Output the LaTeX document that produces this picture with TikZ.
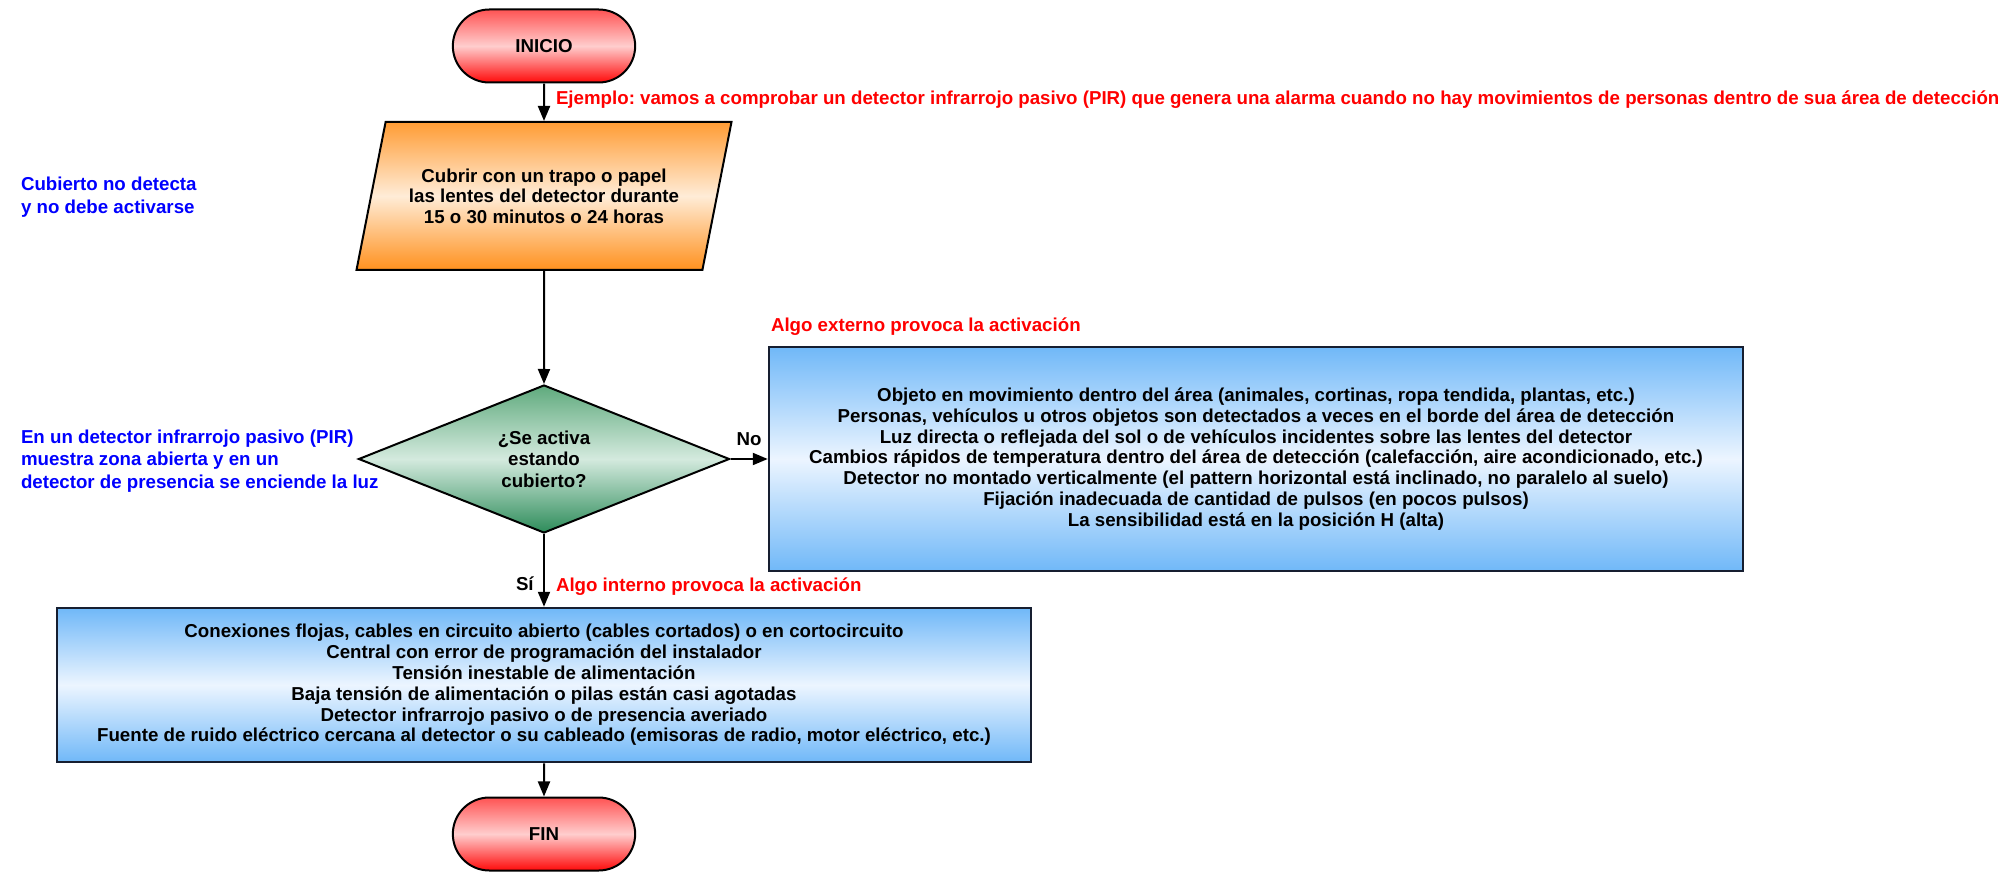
\documentclass[tikz,border=0pt]{standalone}
\usepackage{fontspec}
\setmainfont{Liberation Sans}
\usetikzlibrary{calc,arrows.meta,shapes.misc,shapes.geometric}
\definecolor{TermRed}{RGB}{255,10,10}
\definecolor{TermPink}{RGB}{255,205,205}
\definecolor{ProcOrange}{RGB}{255,145,30}
\definecolor{ProcPeach}{RGB}{255,236,215}
\definecolor{DecTop}{RGB}{95,170,125}
\definecolor{DecMid}{RGB}{212,234,222}
\definecolor{DecBot}{RGB}{45,140,90}
\definecolor{CauseBlue}{RGB}{112,184,248}
\definecolor{CauseLight}{RGB}{236,245,255}
\definecolor{Border}{RGB}{22,30,48}
\frenchspacing
\newcommand{\Spine}{544}
\newcommand{\Bold}{\fontsize{18.7}{20.8}\selectfont\bfseries}
\tikzset{Terminal/.style={
    rounded rectangle,
    minimum width=189,
    minimum height=73,
    draw=black, line width=2pt,
    top color=TermRed!70, bottom color=TermRed, middle color=TermPink,
    font=\Bold,
    }
}
\tikzset{Cause/.style={
    rectangle,
    minimum width=974,
    draw=Border, line width=2.5pt,
    top color=CauseBlue, bottom color=CauseBlue, middle color=CauseLight,
    align=center,
    font=\Bold,
    }
}

\begin{document}
\begin{tikzpicture}[x=1pt, y=-1pt, line width=2pt,
    flow/.style={-{Triangle[length=15pt,width=12pt]}, black},
    note/.style={font=\Bold, text=red, anchor=west, inner sep=0pt},
    hint/.style={font=\fontsize{18.7}{22.5}\selectfont\bfseries, text=blue, align=left, anchor=west, inner sep=0pt},
]
\useasboundingbox (0,0) rectangle (2007,874);
% main column
\node [Terminal] (inicio) at (\Spine,46) {INICIO};
\node [trapezium, trapezium left angle=62, trapezium right angle=118, trapezium stretches body=true,
    minimum width=375, minimum height=148, inner sep=0pt, draw=black,
    top color=ProcOrange!90, bottom color=ProcOrange, middle color=ProcPeach,
    align=center, font=\fontsize{18.7}{20.5}\selectfont\bfseries] (cubrir) at (\Spine,196)
    {Cubrir con un trapo o papel\\las lentes del detector durante\\15 o 30 minutos o 24 horas};
\node [diamond, aspect=2.5, minimum width=371, minimum height=148, inner sep=0pt, draw=black,
    top color=DecTop, bottom color=DecBot, middle color=DecMid,
    align=center, font=\fontsize{18.7}{21.5}\selectfont\bfseries] (activa) at (\Spine,459)
    {¿Se activa\\estando\\cubierto?};
\node [Cause, minimum height=224] (externo) at (1256,459)
    {Objeto en movimiento dentro del área (animales, cortinas, ropa tendida, plantas, etc.)\\
     Personas, vehículos u otros objetos son detectados a veces en el borde del área de detección\\
     Luz directa o reflejada del sol o de vehículos incidentes sobre las lentes del detector\\
     Cambios rápidos de temperatura dentro del área de detección (calefacción, aire acondicionado, etc.)\\
     Detector no montado verticalmente (el pattern horizontal está inclinado, no paralelo al suelo)\\
     Fijación inadecuada de cantidad de pulsos (en pocos pulsos)\\
     La sensibilidad está en la posición H (alta)};
\node [Cause, minimum height=154] (interno) at (\Spine,685)
    {Conexiones flojas, cables en circuito abierto (cables cortados) o en cortocircuito\\
     Central con error de programación del instalador\\
     Tensión inestable de alimentación\\
     Baja tensión de alimentación o pilas están casi agotadas\\
     Detector infrarrojo pasivo o de presencia averiado\\
     Fuente de ruido eléctrico cercana al detector o su cableado (emisoras de radio, motor eléctrico, etc.)};
\node [Terminal] (fin) at (\Spine,834) {FIN};

% connectors
\draw [flow] (inicio) -- (cubrir);
\draw [flow] (cubrir) -- (activa);
\draw [flow] (activa.east) -- (externo.west) node [midway, above=9pt, font=\Bold, black] (no) {No};
\draw [flow] (activa.south) -- (interno.north) node [pos=0.68, left=6pt, font=\Bold, black] (si) {Sí};
\draw [flow] (interno) -- (fin);

% side notes
\node [note] (ejemplo) at (555,100) {Ejemplo: vamos a comprobar un detector infrarrojo pasivo (PIR) que genera una alarma cuando no hay movimientos de personas dentro de sua área de detección};
\node [note] (algoext) at (770,327) {Algo externo provoca la activación};
\node [note] (algoint) at (555,587) {Algo interno provoca la activación};
\node [hint] (cubierto) at (20,197) {Cubierto no detecta\\y no debe activarse};
\node [hint] (zona) at (20,461) {En un detector infrarrojo pasivo (PIR)\\muestra zona abierta y en un\\detector de presencia se enciende la luz};
\end{tikzpicture}
\end{document}
